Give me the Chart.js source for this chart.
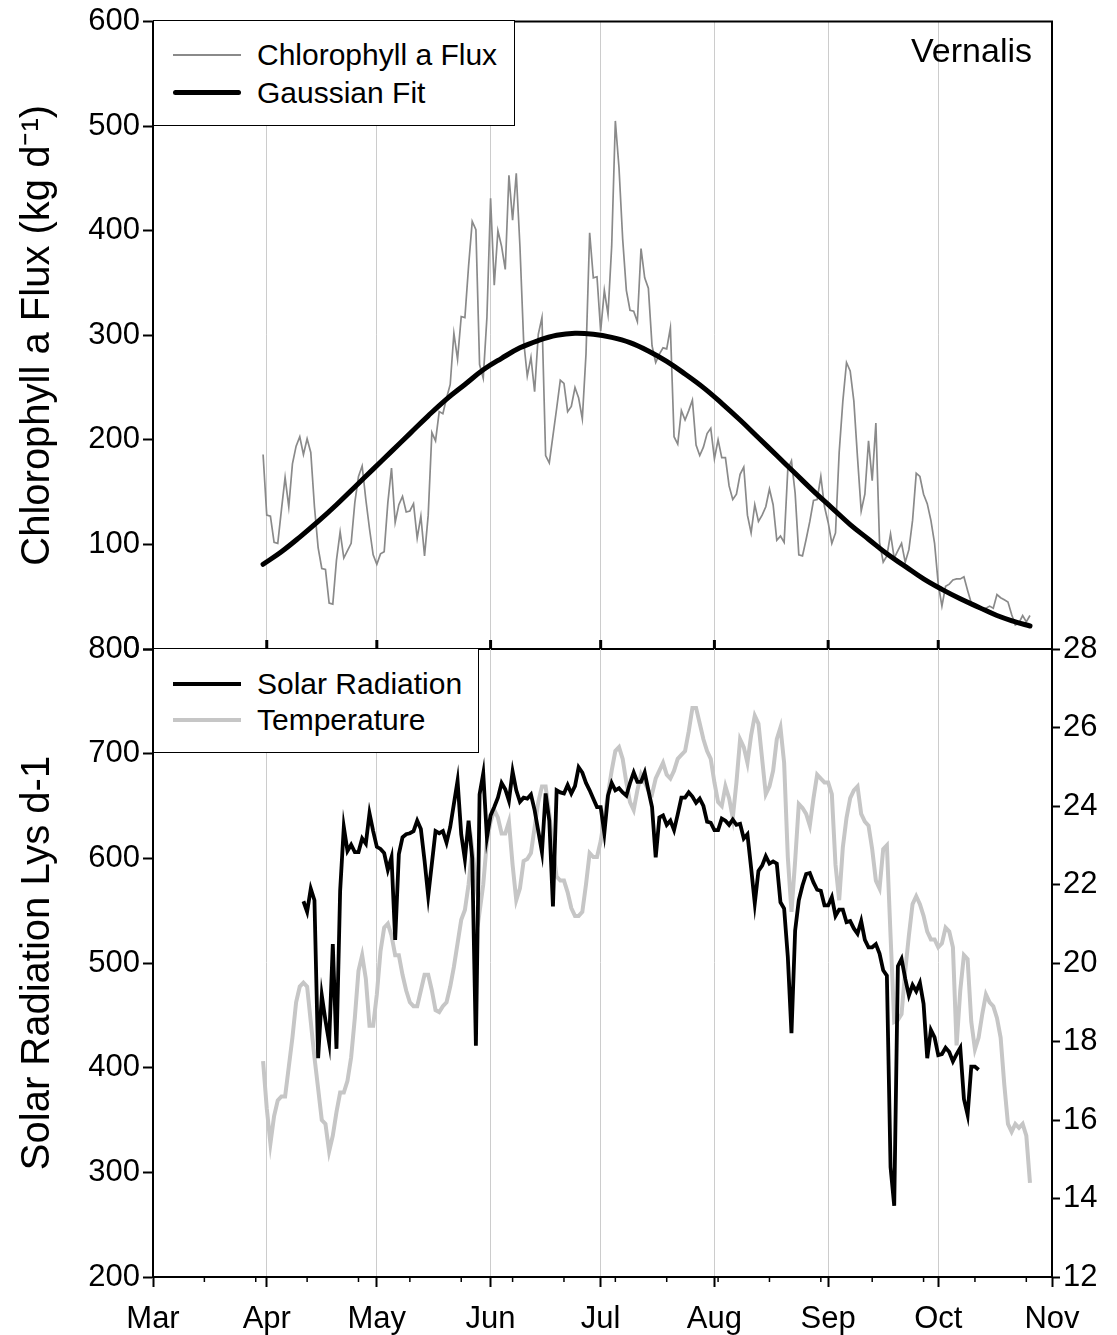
<!DOCTYPE html>
<html>
<head>
<meta charset="utf-8">
<script src="https://cdn.jsdelivr.net/npm/chart.js@4.4.1/dist/chart.umd.min.js"></script>
<style>
  html, body { margin: 0; padding: 0; background: #fff; }
  #wrap { position: relative; width: 1117px; height: 1335px; overflow: hidden; font-family: "Liberation Sans", Arial, Helvetica, sans-serif; color: #000; }
  canvas { position: absolute; left: 0; }
  #topCanvas { top: 0; }
  #botCanvas { top: 600px; }
  .legend { position: absolute; box-sizing: border-box; border: 1.5px solid #000; background: #fff; }
  .sample { position: absolute; left: 19px; width: 68px; }
  .lbl { position: absolute; left: 103px; font-size: 30px; line-height: 36px; height: 36px; white-space: nowrap; }
  #vernalis { position: absolute; right: 85px; top: 30px; font-size: 34px; line-height: 40px; white-space: nowrap; }
</style>
</head>
<body>
<div id="wrap">
  <canvas id="topCanvas" width="1117" height="700" style="width:1117px;height:700px"></canvas>
  <canvas id="botCanvas" width="1117" height="735" style="width:1117px;height:735px"></canvas>

  <div class="legend" style="left:153px;top:20px;width:362px;height:106px;">
    <div class="sample" style="top:33px;height:2px;background:#8a8a8a;"></div>
    <div class="lbl" style="top:16px;">Chlorophyll a Flux</div>
    <div class="sample" style="top:69px;height:5px;background:#000;border-radius:3px;"></div>
    <div class="lbl" style="top:54px;">Gaussian Fit</div>
  </div>
  <div id="vernalis">Vernalis</div>

  <div class="legend" style="left:153px;top:648px;width:326px;height:105px;">
    <div class="sample" style="top:33px;height:4px;background:#000;"></div>
    <div class="lbl" style="top:17px;">Solar Radiation</div>
    <div class="sample" style="top:69px;height:4px;background:#c6c6c6;"></div>
    <div class="lbl" style="top:53px;">Temperature</div>
  </div>
</div>

<script>
// ---------------- DATA ----------------
// x axis: day number counted from 1 March (Mar 1 = 0, Nov 1 = 245)
const monthLabels = ['Mar','Apr','May','Jun','Jul','Aug','Sep','Oct','Nov'];
const monthDays   = [0, 31, 61, 92, 122, 153, 184, 214, 245];
const minorTickDays = [14,28,42,56,70,84,98,112,126,140,154,168,182,196,210,224,238];

// Chlorophyll a flux (kg/d), daily from day 30
const chlStartDay = 30;
const chlorophyllFlux = [
  186,128,127,102,101,133,164,136,177,194,
  203,186,201,188,136,97,77,76,44,43,
  85,112,87,94,101,140,165,175,143,115,
  90,81,91,93,140,173,121,138,146,131,
  132,139,106,127,89,128,207,199,227,225,
  240,253,302,277,318,317,366,409,401,272,
  259,317,431,348,400,385,363,453,410,455,
  385,295,261,279,246,301,317,185,178,204,
  230,257,254,227,232,250,240,220,282,398,
  355,356,304,343,320,385,505,460,392,343,
  324,323,313,383,355,345,290,274,282,288,
  287,307,203,196,228,219,228,238,195,185,
  193,206,211,182,200,183,183,156,143,148,
  167,174,128,111,138,122,128,136,153,138,
  104,108,102,172,180,149,90,89,105,122,
  142,143,165,136,121,101,111,188,237,274,
  266,237,183,132,148,199,161,216,102,83,
  89,110,87,94,101,83,95,123,168,165,
  148,139,123,101,62,41,60,62,66,67,
  67,69,56,44,42,39,37,39,41,39,
  52,49,47,45,33,23,25,32,26,32
];

// Gaussian fit
const gaussianDays = [30,35,40,45,50,55,60,65,70,75,80,85,90,95,100,105,110,115,120,125,130,135,140,145,150,155,160,165,170,175,180,185,190,195,200,205,210,215,220,225,230,235,239];
const gaussianFit  = [81,93,107,122,138,155,172,189,206,223,239,253,267,278,288,295,300,302,301,298,293,285,275,263,250,235,219,202,185,168,151,135,119,105,91,79,67,57,48,40,32,26,22];

// Solar radiation (Lys/d), daily from day 41
const solarStartDay = 41;
const solarRadiation = [
  559,549,571,560,409,469,445,424,518,418,
  569,630,607,613,606,606,619,614,643,626,
  611,609,605,589,601,522,604,620,623,624,
  626,636,628,598,564,595,626,624,626,615,
  630,652,674,623,599,636,600,421,661,681,
  620,641,649,658,672,666,655,683,665,654,
  658,657,661,646,626,606,662,636,554,665,
  663,662,670,662,669,687,682,672,665,657,
  649,649,624,660,672,665,667,663,660,672,
  682,673,673,682,665,649,601,639,641,632,
  636,627,642,658,658,663,659,653,657,650,
  635,634,627,627,638,636,632,637,632,633,
  619,623,591,557,588,593,602,595,597,595,
  558,552,506,433,531,560,574,585,586,577,
  570,569,555,555,563,545,551,551,539,540,
  533,528,540,522,515,515,518,509,493,488,
  305,268,497,504,485,469,479,473,481,461,
  409,436,429,412,413,419,415,406,413,419,
  370,355,401,401,398
];

// Temperature (right axis), daily from day 30
const tempStartDay = 30;
const temperature = [
  17.5,16.3,15.4,16.1,16.5,16.6,16.6,17.35,18.1,19.0,
  19.4,19.5,19.4,18.5,17.6,16.8,16.0,15.9,15.2,15.6,
  16.2,16.7,16.7,17.0,17.6,18.6,19.8,20.2,19.6,18.4,
  18.4,19.2,20.3,20.9,21.0,20.7,20.2,20.2,19.7,19.3,
  19.0,18.9,18.9,19.3,19.7,19.7,19.3,18.8,18.75,18.9,
  19.0,19.4,19.9,20.5,21.1,21.35,22.0,22.9,22.1,21.3,
  22.0,23.1,23.6,23.9,23.7,23.3,23.3,23.6,22.5,21.6,
  21.9,22.6,22.65,22.8,23.45,24.1,24.5,24.5,23.8,22.9,
  22.2,22.1,22.1,21.8,21.4,21.2,21.2,21.3,22.0,22.8,
  22.7,22.7,23.1,23.7,24.3,24.9,25.4,25.5,25.2,24.6,
  24.1,23.9,24.4,24.8,24.6,24.4,24.3,24.7,24.9,25.1,
  24.8,24.7,24.9,25.2,25.3,25.4,25.9,26.5,26.5,26.1,
  25.7,25.4,25.2,24.6,24.1,24.0,24.5,24.2,23.7,24.6,
  25.7,25.5,25.1,25.8,26.3,26.1,25.2,24.3,24.5,24.9,
  25.7,26.0,25.1,22.7,21.3,22.6,24.05,23.95,23.8,23.5,
  24.2,24.8,24.7,24.6,24.6,24.3,22.5,21.6,22.95,23.7,
  24.2,24.4,24.5,23.8,23.6,23.5,22.9,22.1,21.9,22.9,
  23.0,20.7,18.5,18.55,18.7,19.8,20.7,21.5,21.7,21.5,
  21.2,20.8,20.6,20.6,20.4,20.5,20.9,20.8,20.4,17.9,
  19.3,20.2,20.1,18.5,17.8,18.1,18.7,19.2,19.0,18.9,
  18.6,18.1,16.9,15.9,15.7,15.9,15.8,15.9,15.6,14.4
];

// ---------------- CHART ----------------
const fontFam = '"Liberation Sans", Arial, Helvetica, sans-serif';
Chart.defaults.font.family = fontFam;
Chart.defaults.color = '#000';

const seq = (start, vals) => vals.map((v, i) => ({ x: start + i, y: v }));
const pairs = (xs, ys) => xs.map((x, i) => ({ x: x, y: ys[i] }));
const gridColor = c => (c.tick && (c.tick.value === 0 || c.tick.value === 245)) ? 'rgba(0,0,0,0)' : '#cccccc';
const monthTicks = s => { s.ticks = monthDays.map(v => ({ value: v })); };

const frame = {
  id: 'frame',
  afterDraw(chart, args, o) {
    const { ctx, chartArea: a, scales } = chart;
    ctx.save();
    ctx.strokeStyle = '#000';
    if (o.top) { ctx.lineWidth = 2; ctx.beginPath(); ctx.moveTo(a.left - 1, a.top); ctx.lineTo(a.right + 1, a.top); ctx.stroke(); }
    if (o.right) { ctx.lineWidth = 2; ctx.beginPath(); ctx.moveTo(a.right, a.top); ctx.lineTo(a.right, a.bottom); ctx.stroke(); }
    if (o.innerTicks) {
      ctx.lineWidth = 3;
      o.innerTicks.forEach(d => { const x = scales.x.getPixelForValue(d); ctx.beginPath(); ctx.moveTo(x, a.bottom); ctx.lineTo(x, a.bottom - 9); ctx.stroke(); });
    }
    if (o.minorTicks) {
      ctx.lineWidth = 1.5;
      o.minorTicks.forEach(d => { const x = scales.x.getPixelForValue(d); ctx.beginPath(); ctx.moveTo(x, a.bottom); ctx.lineTo(x, a.bottom + 5); ctx.stroke(); });
    }
    ctx.restore();
  }
};

new Chart(document.getElementById('topCanvas'), {
  type: 'line',
  data: { datasets: [
    { label: 'Gaussian Fit', data: pairs(gaussianDays, gaussianFit), borderColor: '#000', borderWidth: 5, pointRadius: 0, tension: 0.4, borderCapStyle: 'round', borderJoinStyle: 'round' },
    { label: 'Chlorophyll a Flux', data: seq(chlStartDay, chlorophyllFlux), borderColor: '#8a8a8a', borderWidth: 1.7, pointRadius: 0, tension: 0 }
  ]},
  options: {
    responsive: false, devicePixelRatio: 1, animation: false, events: [],
    layout: { padding: { top: 20, right: 65, left: 0, bottom: 0 } },
    plugins: { legend: { display: false }, tooltip: { enabled: false },
      frame: { top: true, right: true, innerTicks: [31, 61, 92, 122, 153, 184, 214] } },
    scales: {
      x: { type: 'linear', min: 0, max: 245, afterBuildTicks: monthTicks, afterFit: s => { s.height = 51; },
        ticks: { display: false }, grid: { color: gridColor, lineWidth: 1, drawTicks: false },
        border: { display: true, color: '#000', width: 2 } },
      y: { min: 0, max: 600, afterFit: s => { s.width = 153; },
        ticks: { stepSize: 100, font: { size: 31 }, padding: 3, color: '#000' },
        grid: { drawOnChartArea: false, drawTicks: true, tickLength: 10, tickColor: '#000', tickWidth: 2 },
        border: { display: true, color: '#000', width: 2 },
        title: { display: true, text: 'Chlorophyll a Flux (kg d\u207B\u00B9)', font: { size: 40 }, padding: { top: 14, bottom: 0 }, color: '#000' } }
    }
  },
  plugins: [frame]
});

new Chart(document.getElementById('botCanvas'), {
  type: 'line',
  data: { datasets: [
    { label: 'Solar Radiation', data: seq(solarStartDay, solarRadiation), yAxisID: 'y', borderColor: '#000', borderWidth: 3.8, pointRadius: 0, tension: 0 },
    { label: 'Temperature', data: seq(tempStartDay, temperature), yAxisID: 'y2', borderColor: '#c6c6c6', borderWidth: 4, pointRadius: 0, tension: 0 }
  ]},
  options: {
    responsive: false, devicePixelRatio: 1, animation: false, events: [],
    layout: { padding: { top: 49, right: 0, left: 0, bottom: 0 } },
    plugins: { legend: { display: false }, tooltip: { enabled: false }, frame: { minorTicks: minorTickDays } },
    scales: {
      x: { type: 'linear', min: 0, max: 245, afterBuildTicks: monthTicks, afterFit: s => { s.height = 58; },
        ticks: { autoSkip: false, maxRotation: 0, minRotation: 0, font: { size: 31 }, padding: 14, color: '#000',
          callback: v => monthLabels[monthDays.indexOf(v)] },
        grid: { color: gridColor, lineWidth: 1, drawTicks: true, tickLength: 10, tickColor: '#000', tickWidth: 2 },
        border: { display: true, color: '#000', width: 2 } },
      y: { position: 'left', min: 200, max: 800, afterFit: s => { s.width = 153; },
        ticks: { stepSize: 100, font: { size: 31 }, padding: 3, color: '#000' },
        grid: { drawOnChartArea: false, drawTicks: true, tickLength: 10, tickColor: '#000', tickWidth: 2 },
        border: { display: true, color: '#000', width: 2 },
        title: { display: true, text: 'Solar Radiation Lys d-1', font: { size: 40 }, padding: { top: 14, bottom: 0 }, color: '#000' } },
      y2: { position: 'right', min: 12, max: 28, afterFit: s => { s.width = 65; },
        ticks: { stepSize: 2, font: { size: 31 }, padding: 3, color: '#000' },
        grid: { drawOnChartArea: false, drawTicks: true, tickLength: 8, tickColor: '#000', tickWidth: 2 },
        border: { display: true, color: '#000', width: 2 } }
    }
  },
  plugins: [frame]
});
</script>
</body>
</html>
